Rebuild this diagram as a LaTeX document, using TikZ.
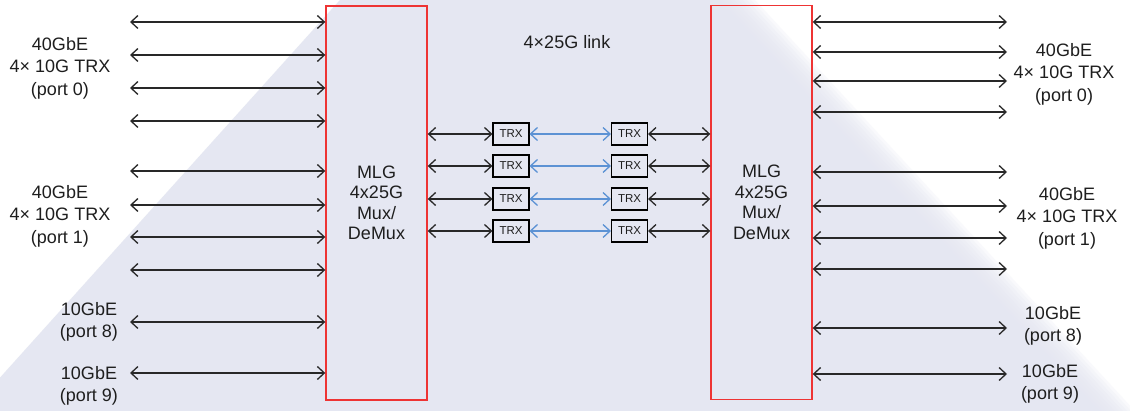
\documentclass[tikz,border=0pt]{standalone}
\usepackage{fontspec}
\setmainfont{Liberation Sans}
\usepackage{tikz}
\usetikzlibrary{positioning, arrows.meta, calc}
\definecolor{lavenderbg}{RGB}{229, 231, 242}
\definecolor{muxred}{RGB}{238, 52, 52}
\definecolor{linkblue}{RGB}{92, 146, 212}
\definecolor{wiregray}{RGB}{40, 40, 40}
\definecolor{textdark}{RGB}{30, 30, 30}

\begin{document}
\begin{tikzpicture}[x=1pt, y=-1pt,
    port/.style={{Straight Barb[length=7pt,width=13pt]}-{Straight Barb[length=7pt,width=13pt]}, color=wiregray, line width=1.3pt},
    lane/.style={port, color=linkblue},
    mux/.style={draw=muxred, line width=1.4pt, minimum width=101pt, minimum height=394pt, inner sep=0pt, align=center, text=textdark, font=\fontsize{18}{20.5}\selectfont},
    trx/.style={draw=black, line width=1.1pt, minimum width=36pt, minimum height=22pt, inner sep=0pt, text=textdark, font=\fontsize{11.5}{12}\selectfont},
    portlabel/.style={align=center, inner sep=0pt, text=textdark, font=\fontsize{18}{22.5}\selectfont}]
    \useasboundingbox (0,0) rectangle (1130,411);

    % Background fade
    \begin{scope}
        \clip (0,0) rectangle (1130,411);
        \fill[white] (0,0) rectangle (1130,411);
        \fill[lavenderbg] (340,0) -- (-30,411) -- (1095,411) -- (715,0) -- cycle;
        \foreach \d in {-16,-12,...,20}
            \fill[lavenderbg, fill opacity=0.22] ({360-\d},0) -- ({-10-\d},411) -- ({1115+\d},411) -- ({735+\d},0) -- cycle;
    \end{scope}

    % Mux/DeMux blocks
    \node[mux] (muxL) at (376.5, 203) {MLG\\4x25G\\Mux/\\DeMux};
    \node[mux] (muxR) at (761.5, 202.5) {MLG\\4x25G\\Mux/\\DeMux};
    \node[portlabel] (linktxt) at (567, 42) {4×25G link};

    % 4x25G lanes
    \foreach \i/\y in {1/134, 2/166, 3/199, 4/231} {
        \node[trx] (trxL\i) at (511,\y) {TRX};
        \node[trx] (trxR\i) at (629.5,\y) {TRX};
        \draw[port] (muxL.east |- trxL\i) -- (trxL\i.west);
        \draw[lane] (trxL\i) -- (trxR\i);
        \draw[port] (trxR\i.east) -- (muxR.west |- trxR\i);
    }

    % Client ports
    \foreach \n/\y in {a/22, b/55, c/88, d/121, e/171, f/205, g/237, h/270, i/322, j/373} {
        \coordinate (inL\n) at (130,\y);
        \draw[port] (inL\n) -- (muxL.west |- inL\n);
    }
    \foreach \n/\y in {a/22, b/52, c/81, d/112, e/172, f/206, g/238, h/269, i/328, j/374} {
        \coordinate (outR\n) at (1007,\y);
        \draw[port] (muxR.east |- outR\n) -- (outR\n);
    }

    \node[portlabel] (lblL0) at (60,68) {40GbE\\4× 10G TRX\\(port 0)};
    \node[portlabel] (lblL1) at (60,216) {40GbE\\4× 10G TRX\\(port 1)};
    \node[portlabel] (lblL8) at (89,322) {10GbE\\(port 8)};
    \node[portlabel] (lblL9) at (89,386) {10GbE\\(port 9)};
    \node[portlabel] (lblR0) at (1064,74) {40GbE\\4× 10G TRX\\(port 0)};
    \node[portlabel] (lblR1) at (1067,218) {40GbE\\4× 10G TRX\\(port 1)};
    \node[portlabel] (lblR8) at (1053,326) {10GbE\\(port 8)};
    \node[portlabel] (lblR9) at (1050,384) {10GbE\\(port 9)};
\end{tikzpicture}
\end{document}
